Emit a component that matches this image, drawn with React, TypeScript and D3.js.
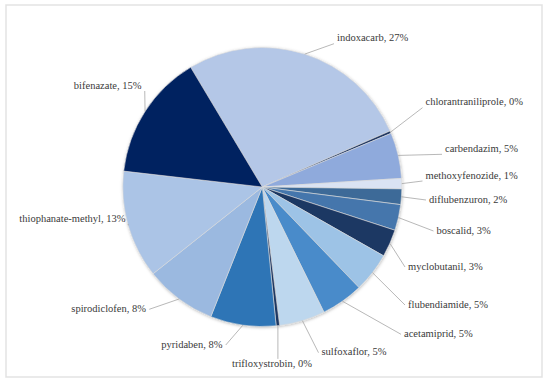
import React, { useEffect, useRef } from "react";
import * as d3 from "d3";

// ---- data (clockwise order, starting at the indoxacarb slice) ----
const NAMES = [
  "indoxacarb",
  "chlorantraniliprole",
  "carbendazim",
  "methoxyfenozide",
  "diflubenzuron",
  "boscalid",
  "myclobutanil",
  "flubendiamide",
  "acetamiprid",
  "sulfoxaflor",
  "trifloxystrobin",
  "pyridaben",
  "spirodiclofen",
  "thiophanate-methyl",
  "bifenazate",
];
const VALUES = [27.0, 0.3, 5.3, 1.2, 1.8, 3.0, 3.2, 4.6, 4.9, 5.3, 0.4, 7.6, 8.3, 12.5, 14.6];
const COLORS = [
  "#B4C7E7",
  "#203864",
  "#8FAADC",
  "#DAE3F3",
  "#3D6B98",
  "#4576AC",
  "#1F3864",
  "#9DC3E6",
  "#4A8BCA",
  "#BDD7EE",
  "#1F3864",
  "#2E75B6",
  "#9BB9E0",
  "#ABC4E6",
  "#002060",
];

// ---- layout (label text anchor points, px) ----
const LABEL_X = [337, 425.5, 445, 425.5, 429, 436.5, 408, 408, 404, 321.5, 232, 222.5, 146, 125.5, 141.5];
const LABEL_Y = [37.7, 101.7, 148.3, 175, 199, 230, 266, 304, 333.3, 351.7, 363.3, 344, 308.3, 218.3, 85];
const LABEL_ANCHOR = ["start", "start", "start", "start", "start", "start", "start", "start", "start", "start", "start", "end", "end", "end", "end"];

const W = 550;
const H = 384;
const CX = 262.3;
const CY = 187;
const R = 139.5;
const START = (-30.9 * Math.PI) / 180;
const FONT = '"Liberation Serif", "DejaVu Serif", "Times New Roman", serif';

export default function App() {
  const ref = useRef<SVGSVGElement | null>(null);

  useEffect(() => {
    const svg = d3.select(ref.current);
    svg.selectAll("*").remove();

    const defs = svg.append("defs");
    const f = defs
      .append("filter")
      .attr("id", "shadow")
      .attr("x", "-10%")
      .attr("y", "-10%")
      .attr("width", "120%")
      .attr("height", "120%");
    f.append("feDropShadow")
      .attr("dx", 0.5)
      .attr("dy", 0.8)
      .attr("stdDeviation", 1.6)
      .attr("flood-color", "#000")
      .attr("flood-opacity", 0.28);

    // frame
    svg
      .append("rect")
      .attr("x", 6)
      .attr("y", 5)
      .attr("width", 536)
      .attr("height", 372)
      .attr("fill", "#fff")
      .attr("stroke", "#e3e3e3")
      .attr("stroke-width", 1.5);

    const total = d3.sum(VALUES);
    const pie = d3
      .pie<number>()
      .value((d) => d)
      .sort(null)
      .startAngle(START)
      .endAngle(START + 2 * Math.PI);
    const arcs = pie(VALUES);
    const arc = d3.arc<d3.PieArcDatum<number>>().innerRadius(0).outerRadius(R);
    const edge = d3.arc<d3.PieArcDatum<number>>().innerRadius(R).outerRadius(R);

    const g = svg.append("g").attr("transform", `translate(${CX},${CY})`);
    const gp = g.append("g").attr("filter", "url(#shadow)");
    gp.selectAll("path")
      .data(arcs)
      .join("path")
      .attr("d", (d) => arc(d) as string)
      .attr("fill", (_d, i) => COLORS[i])
      .attr("stroke", "#dcdcdc")
      .attr("stroke-width", 0.6)
      .attr("stroke-linejoin", "round");

    // labels
    const lg = svg.append("g");
    const texts = lg
      .selectAll("text")
      .data(arcs)
      .join("text")
      .attr("x", (_d, i) => LABEL_X[i])
      .attr("y", (_d, i) => LABEL_Y[i])
      .attr("dy", "0.34em")
      .attr("text-anchor", (_d, i) => LABEL_ANCHOR[i])
      .style("font-family", FONT)
      .style("font-size", "10.5px")
      .attr("fill", "#3a3a3a")
      .text((d, i) => `${NAMES[i]}, ${Math.round((d.value / total) * 100)}%`);

    const lines = svg.insert("g", () => lg.node() as any);
    texts.each(function (d, i) {
      const bb = (this as SVGTextElement).getBBox();
      const c = edge.centroid(d);
      const px = CX + c[0];
      const py = CY + c[1];
      const x0 = bb.x - 3;
      const x1 = bb.x + bb.width + 3;
      const cy = LABEL_Y[i];
      let ex: number;
      let ey: number;
      if (px < x0 || px > x1) {
        ex = px < x0 ? x0 : x1;
        ey = Math.max(cy + 1, Math.min(cy + 6, py));
      } else {
        ex = px;
        ey = py < cy ? bb.y + 1 : bb.y + bb.height;
      }
      lines
        .append("line")
        .attr("x1", px)
        .attr("y1", py)
        .attr("x2", ex)
        .attr("y2", ey)
        .attr("stroke", "#a6a6a6")
        .attr("stroke-width", 0.8);
    });
  }, []);

  return (
    <svg
      ref={ref}
      width={W}
      height={H}
      style={{ position: "absolute", left: 0, top: 0, background: "#fff" }}
    />
  );
}
